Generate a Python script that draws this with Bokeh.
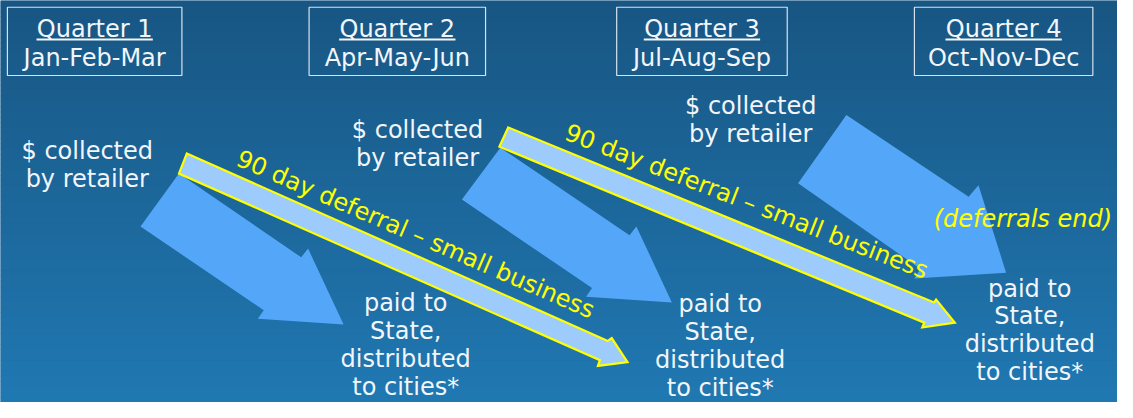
import math
from bokeh.plotting import figure
from bokeh.models import Range1d
from bokeh.core.properties import value
from bokeh.embed import file_html
from bokeh.resources import INLINE

# ---------------- content / values ----------------
quarter_titles = ["Quarter 1", "Quarter 2", "Quarter 3", "Quarter 4"]
quarter_months = ["Jan-Feb-Mar", "Apr-May-Jun", "Jul-Aug-Sep", "Oct-Nov-Dec"]
box_left = [7, 313, 625, 927]
box_right = [184, 492, 798, 1108]
box_top = [7, 7, 7, 7]
box_bottom = [78, 78, 78, 78]

collected_lines = ["$ collected", "by retailer"]
collected_x = [88, 423, 761]
collected_y = [164, 142, 117]

paid_lines = ["paid to", "State,", "distributed", "to cities*"]
paid_x = [411, 730, 1044]
paid_y = [322, 323, 307]

# big "flow" block arrows (collected -> paid)
flow_xs = [[181, 305, 312, 348, 261, 267, 142],
           [507, 638, 645, 681, 594, 600, 468],
           [858, 982, 992, 1020, 927, 933, 809]]
flow_ys = [[180, 267, 258, 337, 331, 322, 235],
           [153, 244, 235, 314, 308, 299, 207],
           [119, 204, 192, 283, 289, 279, 190]]

# 90 day deferral arrows
deferral_xs = [[189, 616, 620, 636, 606, 608, 181],
               [515, 947, 949, 968, 935, 937, 506]]
deferral_ys = [[159, 354, 351, 376, 380, 374, 180],
               [132, 314, 311, 335, 340, 335, 152]]

deferral_label = "90 day deferral \u2013 small business"
deferral_label_x = [418, 754]
deferral_label_y = [250, 216]
deferral_label_slope = [0.444, 0.398]

end_label = "(deferrals end)"
end_x = [1037]
end_y = [235]

# ---------------- styling ----------------
W_IMG, H_IMG = 1133, 418
PW, PH = 1117, 402
FONT = value("DejaVu Sans")
FS = "24px"
WHITE = "#f2f6fa"
YELLOW = "#ffff00"
FLOW = "#54a7f8"
DEFER = "#9dcbfb"
TOP = (24, 86, 131)
BOT = (32, 120, 178)
TEXT_DY = -7.5   # compensation of the renderer's baseline offset
PAID_LH = 29

p = figure(width=PW, height=PH, x_range=Range1d(0, W_IMG), y_range=Range1d(H_IMG, 0),
           output_backend="svg", toolbar_location=None,
           x_axis_location=None, y_axis_location=None, min_border=0)
p.grid.visible = False
p.outline_line_color = None
p.background_fill_color = "#1b6699"
p.border_fill_color = "#1b6699"

# vertical gradient background (strips)
n = 76
step = H_IMG / n
cols, tops, bots = [], [], []
for i in range(n):
    t = i / (n - 1)
    c = tuple(int(round(a + (b - a) * t)) for a, b in zip(TOP, BOT))
    cols.append("#%02x%02x%02x" % c)
    tops.append(i * step)
    bots.append((i + 1) * step + 0.6)
p.quad(left=0, right=W_IMG, top=tops, bottom=bots, fill_color=cols, line_color=None)


def txt(xs, ys, texts, color=WHITE, **kw):
    p.text(x=xs, y=[y + TEXT_DY for y in ys], text=texts, text_font=FONT, text_font_size=FS,
           text_color=color, text_align="center", text_baseline="alphabetic", **kw)


# quarter boxes
p.quad(left=box_left, right=box_right, top=box_top, bottom=box_bottom,
       fill_alpha=0, line_color="#d8e2ec", line_width=1.2)
box_cx = [(a + b) / 2 for a, b in zip(box_left, box_right)]
txt(box_cx, [37] * 4, quarter_titles)
p.segment(x0=[c - 59 for c in box_cx], x1=[c + 59 for c in box_cx], y0=[40.5] * 4, y1=[40.5] * 4,
          line_color=WHITE, line_width=2)
txt(box_cx, [67] * 4, quarter_months)

# flow arrows
p.patches(xs=flow_xs, ys=flow_ys, fill_color=FLOW, line_color=None)

# deferral arrows
p.patches(xs=deferral_xs, ys=deferral_ys, fill_color=DEFER, line_color=YELLOW, line_width=2.2,
          line_join="miter")

# collected / paid texts
for k, line in enumerate(collected_lines):
    txt(collected_x, [y + 29 * k for y in collected_y], [line] * 3)
for k, line in enumerate(paid_lines):
    txt(paid_x, [y + PAID_LH * k for y in paid_y], [line] * 3)

# deferral labels (rotated)
sx = PW / W_IMG
sy = PH / H_IMG
thetas = [math.atan(s * sy / sx) for s in deferral_label_slope]
lx = [x - TEXT_DY * math.sin(t) for x, t in zip(deferral_label_x, thetas)]
ly = [y + TEXT_DY * math.cos(t) for y, t in zip(deferral_label_y, thetas)]
p.text(x=lx, y=ly, text=[deferral_label] * 2, angle=[-t for t in thetas],
       text_font=FONT, text_font_size=FS, text_color=YELLOW, text_align="center",
       text_baseline="alphabetic")

txt(end_x, end_y, [end_label], color=YELLOW, text_font_style="italic")

html = file_html(p, INLINE)
html = html.replace("<body>", '<body style="background:linear-gradient(#185683,#2078b2);">', 1)
open("out.html", "w").write(html)
